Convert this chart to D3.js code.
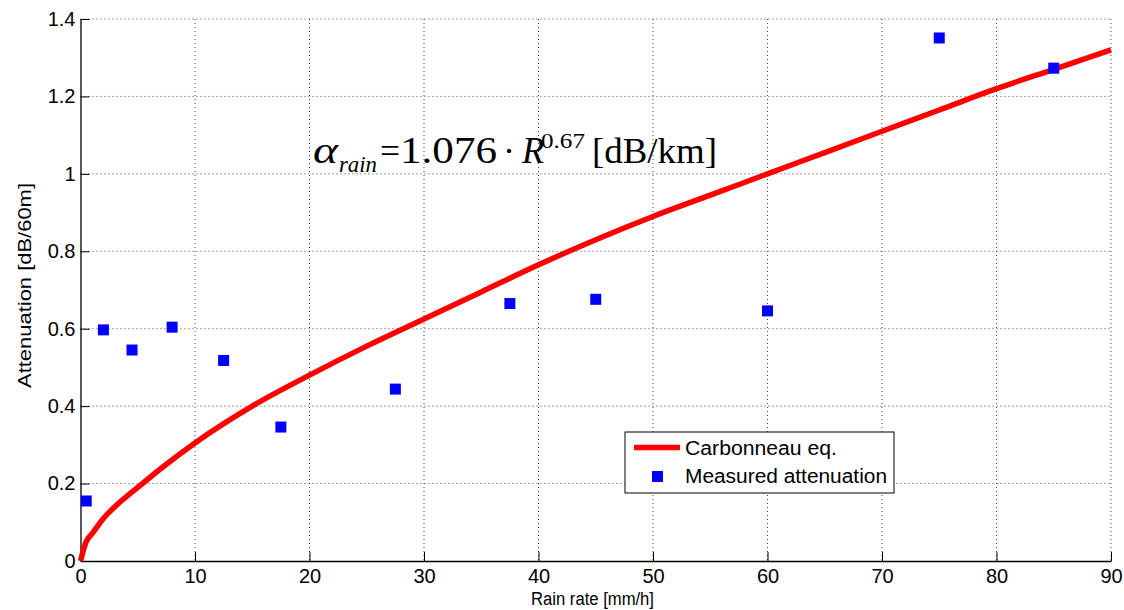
<!DOCTYPE html>
<html>
<head>
<meta charset="utf-8">
<script src="https://d3js.org/d3.v7.min.js"></script>
<style>
body { margin: 0; background: #fff; }
text { font-family: "Liberation Sans", Arial, sans-serif; }
.eq { font-family: "Liberation Serif", "Times New Roman", serif; }
</style>
</head>
<body>
<svg id="chart" width="1124" height="610"></svg>
<script>
// data
var rainRate = [0, 0.5, 1, 2, 3, 5, 7.5, 10, 15, 20, 25, 30, 35, 40, 45, 50, 55, 60, 65, 70, 75, 80, 85, 90];
var carbonneau = [0, 0.05, 0.07, 0.11, 0.14, 0.19, 0.25, 0.305, 0.40, 0.48, 0.555, 0.625, 0.695, 0.765, 0.83, 0.89, 0.945, 1.0, 1.055, 1.11, 1.165, 1.22, 1.27, 1.32];
var measRate = [0.5, 2, 4.5, 8, 12.5, 17.5, 27.5, 37.5, 45, 60, 75, 85];
var measAtt = [0.155, 0.597, 0.545, 0.604, 0.518, 0.346, 0.444, 0.665, 0.676, 0.646, 1.351, 1.273];
var xTicks = [0, 10, 20, 30, 40, 50, 60, 70, 80, 90];
var yTicks = [0, 0.2, 0.4, 0.6, 0.8, 1, 1.2, 1.4];

var margin = {top: 19, right: 13, bottom: 49, left: 80.5};
var width = 1124 - margin.left - margin.right;
var height = 610 - margin.top - margin.bottom;

var svg = d3.select("#chart");
var chart = svg.append("g")
	.attr("transform", "translate(" + margin.left + "," + margin.top + ")");

var x = d3.scaleLinear().domain([0, 90]).range([0, width]);
var y = d3.scaleLinear().domain([0, 1.4]).range([height, 0]);

//grid
chart.append("g").selectAll("line")
	.data(xTicks.slice(1))
	.enter().append("line")
	.attr("x1", function(d){ return x(d); }).attr("x2", function(d){ return x(d); })
	.attr("y1", 0).attr("y2", height)
	.attr("stroke", "#444").attr("stroke-width", 1).attr("stroke-dasharray", "1,3");
chart.append("g").selectAll("line")
	.data(yTicks.slice(1))
	.enter().append("line")
	.attr("x1", 0).attr("x2", width)
	.attr("y1", function(d){ return y(d); }).attr("y2", function(d){ return y(d); })
	.attr("stroke", "#444").attr("stroke-width", 1).attr("stroke-dasharray", "1,3");

//axes, ticks inward
var xAxis = d3.axisBottom(x).tickValues(xTicks).tickSizeInner(-9).tickSizeOuter(0).tickPadding(8)
	.tickFormat(d3.format("d"));
var yAxis = d3.axisLeft(y).tickValues(yTicks).tickSizeInner(-9).tickSizeOuter(0).tickPadding(5)
	.tickFormat(function(d){ return d === 0 || d === 1 ? d3.format("d")(d) : d3.format(".1f")(d); });

var gx = chart.append("g").attr("transform", "translate(0," + height + ")").call(xAxis);
var gy = chart.append("g").call(yAxis);
[gx, gy].forEach(function(g){
	g.selectAll("text").style("font-size", "20px").attr("fill", "#000")
		.style("font-family", "'Liberation Sans', Arial, sans-serif");
	g.selectAll("line").attr("stroke", "#000");
	g.select(".domain").attr("stroke", "#000").attr("stroke-width", 1.3);
});
gx.selectAll("text").attr("dy", "0.71em");

//curve
var line = d3.line()
	.x(function(d, i){ return x(rainRate[i]); })
	.y(function(d){ return y(d); })
	.curve(d3.curveMonotoneX);
chart.append("path")
	.datum(carbonneau)
	.attr("d", line)
	.attr("fill", "none")
	.attr("stroke", "#ff0000")
	.attr("stroke-width", 5.5);

//measured points
var ms = 11;
chart.selectAll("rect.pt")
	.data(measAtt)
	.enter().append("rect")
	.attr("class", "pt")
	.attr("x", function(d, i){ return x(measRate[i]) - ms/2; })
	.attr("y", function(d){ return y(d) - ms/2; })
	.attr("width", ms).attr("height", ms)
	.attr("fill", "#0000ff");

//equation, pieces placed in page coordinates
var eq = svg.append("g").attr("class", "eq").attr("fill", "#000");
function piece(t, px, py, size, italic, len){
	var el = eq.append("text").attr("x", px).attr("y", py)
		.style("font-size", size + "px")
		.style("font-family", "'Liberation Serif', 'Times New Roman', serif")
		.style("font-style", italic ? "italic" : "normal")
		.text(t);
	if(len){ el.attr("textLength", len).attr("lengthAdjust", "spacingAndGlyphs"); }
}
piece("α", 313, 163, 38, true, 25);
piece("rain", 339, 172, 24, true, 38);
piece("=", 380, 163, 36, false, 20);
piece("1.076", 400, 163, 38, false, 97);
piece("·", 503, 163, 36, false, 0);
piece("R", 522, 163, 37, true, 22);
piece("0.67", 541, 148, 22, false, 44);
piece("[dB/km]", 592, 163, 36, false, 125);

//legend
var lg = svg.append("g").attr("transform", "translate(625,432)");
lg.append("rect").attr("width", 269).attr("height", 61)
	.attr("fill", "#fff").attr("stroke", "#000").attr("stroke-width", 1);
lg.append("line").attr("x1", 9).attr("x2", 55).attr("y1", 15.5).attr("y2", 15.5)
	.attr("stroke", "#ff0000").attr("stroke-width", 5.5);
lg.append("rect").attr("x", 27).attr("y", 39).attr("width", 11).attr("height", 11).attr("fill", "#0000ff");
lg.append("text").attr("x", 60).attr("y", 23).style("font-size", "20px")
	.attr("textLength", 152).attr("lengthAdjust", "spacingAndGlyphs").text("Carbonneau eq.");
lg.append("text").attr("x", 60).attr("y", 51).style("font-size", "20px")
	.attr("textLength", 202).attr("lengthAdjust", "spacingAndGlyphs").text("Measured attenuation");

//labels
svg.append("text")
	.attr("transform", "translate(31,285.5) rotate(-90)")
	.attr("text-anchor", "middle")
	.style("font-size", "18px")
	.attr("textLength", 205).attr("lengthAdjust", "spacingAndGlyphs")
	.text("Attenuation [dB/60m]");
svg.append("text")
	.attr("x", 592.5).attr("y", 605)
	.attr("text-anchor", "middle")
	.style("font-size", "18px")
	.attr("textLength", 123).attr("lengthAdjust", "spacingAndGlyphs")
	.text("Rain rate [mm/h]");
</script>
</body>
</html>
